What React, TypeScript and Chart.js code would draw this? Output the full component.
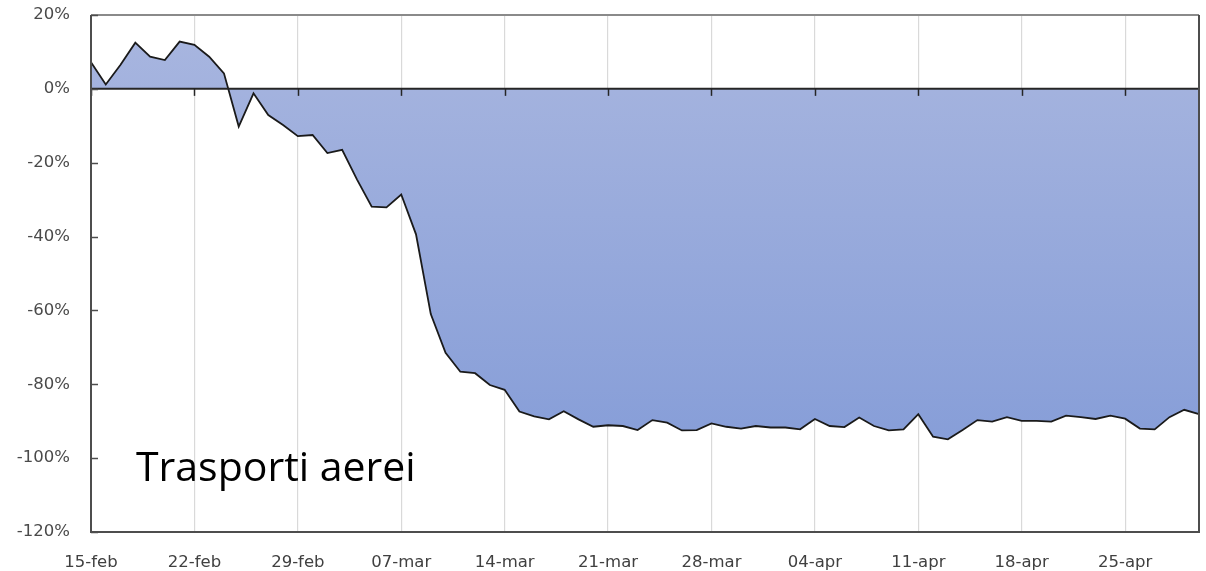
import React, { useEffect, useRef } from "react";
import { Chart, registerables } from "chart.js";

Chart.register(...registerables);

const categories: string[] = [
  "15-feb", "16-feb", "17-feb", "18-feb", "19-feb", "20-feb", "21-feb",
  "22-feb", "23-feb", "24-feb", "25-feb", "26-feb", "27-feb", "28-feb",
  "29-feb", "01-mar", "02-mar", "03-mar", "04-mar", "05-mar", "06-mar",
  "07-mar", "08-mar", "09-mar", "10-mar", "11-mar", "12-mar", "13-mar",
  "14-mar", "15-mar", "16-mar", "17-mar", "18-mar", "19-mar", "20-mar",
  "21-mar", "22-mar", "23-mar", "24-mar", "25-mar", "26-mar", "27-mar",
  "28-mar", "29-mar", "30-mar", "31-mar", "01-apr", "02-apr", "03-apr",
  "04-apr", "05-apr", "06-apr", "07-apr", "08-apr", "09-apr", "10-apr",
  "11-apr", "12-apr", "13-apr", "14-apr", "15-apr", "16-apr", "17-apr",
  "18-apr", "19-apr", "20-apr", "21-apr", "22-apr", "23-apr", "24-apr",
  "25-apr", "26-apr", "27-apr", "28-apr", "29-apr", "30-apr",
];

const airTransport: number[] = [
  7.2, 1.2, 6.5, 12.5, 8.7, 7.8, 12.8,
  11.9, 8.7, 4.2, -10.2, -1.2, -7.1, -9.8,
  -12.8, -12.5, -17.4, -16.5, -24.5, -31.9, -32.1,
  -28.6, -39.4, -61.0, -71.5, -76.6, -77.0, -80.2,
  -81.5, -87.4, -88.7, -89.5, -87.3, -89.5, -91.5,
  -91.1, -91.3, -92.4, -89.7, -90.4, -92.5, -92.4,
  -90.6, -91.5, -92.0, -91.3, -91.7, -91.7, -92.2,
  -89.4, -91.3, -91.6, -89.0, -91.3, -92.5, -92.2,
  -88.1, -94.2, -94.9, -92.4, -89.7, -90.1, -88.9,
  -89.9, -89.9, -90.1, -88.5, -88.9, -89.4, -88.5,
  -89.3, -92.0, -92.2, -88.9, -86.9, -88.1,
];

const yTickValues: number[] = [20, 0, -20, -40, -60, -80, -100, -120];
const annotationText = "Trasporti aerei";
const WEEK = 7;

const decorPlugin = {
  id: "decor",
  afterDatasetsDraw(chart: any) {
    const { ctx, chartArea, scales } = chart;
    const { left, right, top, bottom } = chartArea;
    const x = scales.x;
    const y = scales.y;
    ctx.save();
    // zero line
    const y0 = y.getPixelForValue(0);
    ctx.strokeStyle = "#262626";
    ctx.lineWidth = 2;
    ctx.beginPath();
    ctx.moveTo(left, y0);
    ctx.lineTo(right, y0);
    ctx.stroke();
    // week ticks on zero line
    ctx.lineWidth = 1.5;
    for (let i = 0; i < categories.length; i += WEEK) {
      const px = Math.round(x.getPixelForValue(i)) + 0.5;
      ctx.beginPath();
      ctx.moveTo(px, y0);
      ctx.lineTo(px, y0 + 7);
      ctx.stroke();
    }
    // border box
    ctx.lineWidth = 2;
    ctx.strokeStyle = "#8a8a8a";
    ctx.beginPath();
    ctx.moveTo(left, top);
    ctx.lineTo(right, top);
    ctx.stroke();
    ctx.strokeStyle = "#4d4d4d";
    ctx.beginPath();
    ctx.moveTo(right, top);
    ctx.lineTo(right, bottom);
    ctx.lineTo(left, bottom);
    ctx.lineTo(left, top);
    ctx.stroke();
    // y inner ticks
    ctx.lineWidth = 1.5;
    for (const v of yTickValues) {
      const py = Math.round(y.getPixelForValue(v)) + 0.5;
      ctx.beginPath();
      ctx.moveTo(left, py);
      ctx.lineTo(left + 7, py);
      ctx.stroke();
    }
    // annotation
    ctx.fillStyle = "#000000";
    ctx.font = '41px "Open Sans", sans-serif';
    ctx.textBaseline = "alphabetic";
    ctx.textAlign = "left";
    ctx.fillText(annotationText, left + 45, y.getPixelForValue(-106.2));
    ctx.restore();
  },
};

export default function App() {
  const canvasRef = useRef<HTMLCanvasElement | null>(null);

  useEffect(() => {
    if (!canvasRef.current) return;
    const chart = new Chart(canvasRef.current, {
      type: "line",
      data: {
        labels: categories,
        datasets: [
          {
            data: airTransport,
            borderColor: "#1a1a1a",
            borderWidth: 1.8,
            pointRadius: 0,
            tension: 0,
            fill: "origin",
            backgroundColor: (context: any) => {
              const { chart } = context;
              const { ctx, chartArea, scales } = chart;
              if (!chartArea || !scales.y) return "#9aabdc";
              const g = ctx.createLinearGradient(
                0,
                scales.y.getPixelForValue(13),
                0,
                scales.y.getPixelForValue(-95)
              );
              g.addColorStop(0, "#a7b5df");
              g.addColorStop(1, "#879ed8");
              return g;
            },
          },
        ],
      },
      options: {
        animation: false,
        responsive: true,
        maintainAspectRatio: false,
        layout: { padding: { top: 15, right: 7, left: 0, bottom: 0 } },
        plugins: {
          legend: { display: false },
          tooltip: { enabled: false },
        },
        scales: {
          x: {
            type: "category",
            offset: false,
            border: { display: false },
            grid: {
              drawTicks: false,
              color: (c: any) => (c.index % WEEK === 0 ? "#d9d9d9" : "rgba(0,0,0,0)"),
              lineWidth: 1.2,
            },
            ticks: {
              autoSkip: false,
              maxRotation: 0,
              minRotation: 0,
              padding: 21,
              color: "#404040",
              font: { family: '"DejaVu Sans", sans-serif', size: 16.5 },
              callback: function (this: any, value: any, index: number) {
                return index % WEEK === 0 ? this.getLabelForValue(value) : "";
              },
            },
            afterFit: (scale: any) => {
              scale.height = 39;
              scale.paddingLeft = 0;
              scale.paddingRight = 0;
              scale.paddingTop = 0;
              scale.paddingBottom = 0;
            },
          },
          y: {
            min: -120,
            max: 20,
            border: { display: false },
            grid: { display: false, drawTicks: false },
            ticks: {
              stepSize: 20,
              padding: 21,
              color: "#4a4a4a",
              font: { family: '"DejaVu Sans", sans-serif', size: 16.5 },
              callback: (v: any) => `${v}%`,
            },
            afterFit: (scale: any) => {
              scale.width = 91;
              scale.paddingLeft = 0;
              scale.paddingRight = 0;
              scale.paddingTop = 0;
              scale.paddingBottom = 0;
            },
          },
        },
      },
      plugins: [decorPlugin],
    });
    return () => chart.destroy();
  }, []);

  return (
    <div
      style={{
        position: "fixed",
        left: 0,
        top: 0,
        width: 1206,
        height: 571,
        background: "#ffffff",
      }}
    >
      <canvas ref={canvasRef} />
    </div>
  );
}
